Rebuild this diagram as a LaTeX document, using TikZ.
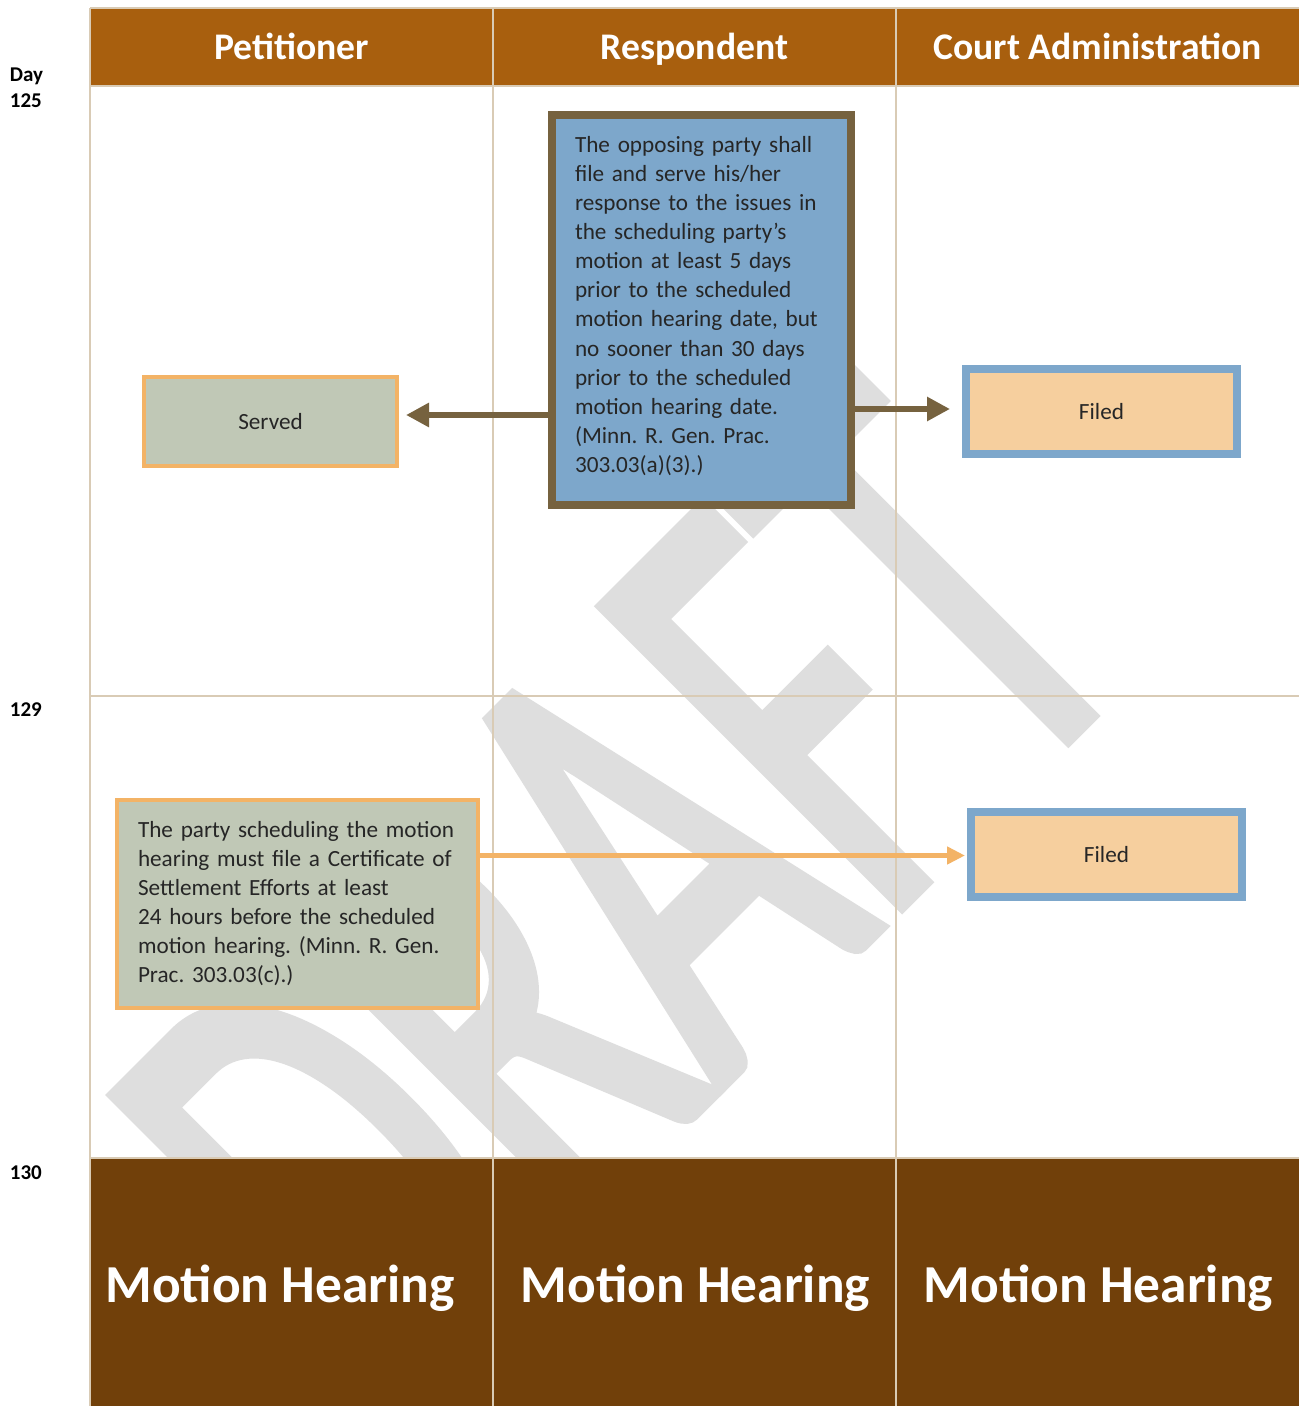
\documentclass[tikz,border=0pt]{standalone}
\usepackage{fontspec}
\usepackage{graphicx}
\setmainfont{Carlito}
\newfontfamily\wmfont{Carlito}[FakeBold=2.5]
\frenchspacing
\usetikzlibrary{arrows.meta}
\definecolor{hdr}{HTML}{A85F0E}
\definecolor{band}{HTML}{71400A}
\definecolor{gridc}{HTML}{D9CBB5}
\definecolor{bluefill}{HTML}{7DA7CB}
\definecolor{brownline}{HTML}{76623F}
\definecolor{greenfill}{HTML}{C0C8B6}
\definecolor{orangeline}{HTML}{F3B366}
\definecolor{peach}{HTML}{F6CF9E}
\definecolor{wm}{HTML}{DEDEDE}
\definecolor{txt}{HTML}{262626}
\tikzset{
  gridline/.style={draw=gridc, line width=1pt},
  hdrtext/.style={text=white, font=\bfseries\fontsize{18.8pt}{22pt}\selectfont, anchor=base, inner sep=0pt},
  bandtext/.style={text=white, font=\bfseries\fontsize{26.7pt}{32pt}\selectfont, anchor=base, inner sep=0pt},
  daytext/.style={text=black, font=\bfseries\fontsize{10.5pt}{13pt}\selectfont, anchor=base west, inner sep=0pt},
  bodyfont/.style={text=txt, font=\fontsize{11.6pt}{14.55pt}\selectfont},
  respbox/.style={bodyfont, draw=brownline, fill=bluefill, line width=4pt, text width=126.5pt, inner xsep=11.5pt, inner ysep=0pt, minimum height=195pt, align=left},
  servbox/.style={bodyfont, draw=orangeline, fill=greenfill, line width=2pt, minimum width=126.5pt, minimum height=44.5pt, inner sep=0pt},
  filedbox/.style={bodyfont, draw=bluefill, fill=peach, line width=4pt, minimum width=135.5pt, minimum height=42.5pt, inner sep=0pt},
  certbox/.style={bodyfont, draw=orangeline, fill=greenfill, line width=2pt, text width=159.5pt, inner xsep=10.5pt, inner ysep=0pt, minimum height=104.25pt, align=left},
  brownarrow/.style={draw=brownline, line width=3.3pt, -{Triangle[length=11.5pt,width=11.5pt]}},
  orangearrow/.style={draw=orangeline, line width=2.5pt, -{Triangle[length=9pt,width=8.5pt]}},
  wmtext/.style={text=wm, font=\wmfont\fontsize{199pt}{200pt}\selectfont, inner sep=0pt},
}
\begin{document}
\begin{tikzpicture}[x=0.5pt,y=-0.5pt]
\path[use as bounding box, fill=white] (0,0) rectangle (1299,1406);
% fills
\fill[hdr] (90,8) rectangle (1299,86);
\fill[band] (90,1158) rectangle (1299,1406);
% watermark
\begin{scope}
\clip (90,86) rectangle (1299,1158);
\node[wmtext, rotate=45, anchor=base west] (wm) at (391.75,1413.25) {\scalebox{1}[1.643]{DRAFT}};
\end{scope}
% grid
\draw[gridline] (90,8) -- (1299,8);
\draw[gridline] (90,86) -- (1299,86);
\draw[gridline] (90,696) -- (1299,696);
\draw[gridline] (90,1158) -- (1299,1158);
\draw[gridline] (90,8) -- (90,1406);
\draw[gridline] (493,8) -- (493,1406);
\draw[gridline] (896,8) -- (896,1406);
% headers
\node[hdrtext] (hpet) at (291.5,60) {Petitioner};
\node[hdrtext] (hres) at (694.5,60) {Respondent};
\node[hdrtext] (hcourt) at (1097.5,60) {Court Administration};
% day labels
\node[daytext] (dday) at (9.5,81.5) {Day};
\node[daytext] (d125) at (9.5,107.5) {125};
\node[daytext] (d129) at (9.5,716.5) {129};
\node[daytext] (d130) at (9.5,1179) {130};
% boxes
\node[respbox] (resp) at (701.5,310) {The opposing party shall\\
file and serve his/her\\
response to the issues in\\
the scheduling party’s\\
motion at least 5 days\\
prior to the scheduled\\
motion hearing date, but\\
no sooner than 30 days\\
prior to the scheduled\\
motion hearing date.\\
(Minn. R. Gen. Prac.\\
303.03(a)(3).)\par\vspace{4pt}};
\node[servbox] (served) at (270.5,421.5) {Served};
\node[filedbox] (filed1) at (1101.5,411.5) {Filed};
\node[certbox] (cert) at (297.5,903.75) {The party scheduling the motion\\
hearing must file a Certificate of\\
Settlement Efforts at least\\
24 hours before the scheduled\\
motion hearing. (Minn. R. Gen.\\
Prac. 303.03(c).)};
\node[filedbox] (filed2) at (1106.5,854.5) {Filed};
% arrows
\coordinate (la) at (0,415);
\coordinate (ra) at (0,409);
\coordinate (oa) at (0,855.5);
\draw[brownarrow, shorten >=3.5pt] (resp.west |- la) -- (served.east |- la);
\draw[brownarrow, shorten >=6pt] (resp.east |- ra) -- (filed1.west |- ra);
\draw[orangearrow, shorten >=1pt] (cert.east |- oa) -- (filed2.west |- oa);
% band labels
\node[bandtext] (mh1) at (280,1302) {Motion Hearing};
\node[bandtext] (mh2) at (695.5,1302) {Motion Hearing};
\node[bandtext] (mh3) at (1098.5,1302) {Motion Hearing};
\end{tikzpicture}
\end{document}
